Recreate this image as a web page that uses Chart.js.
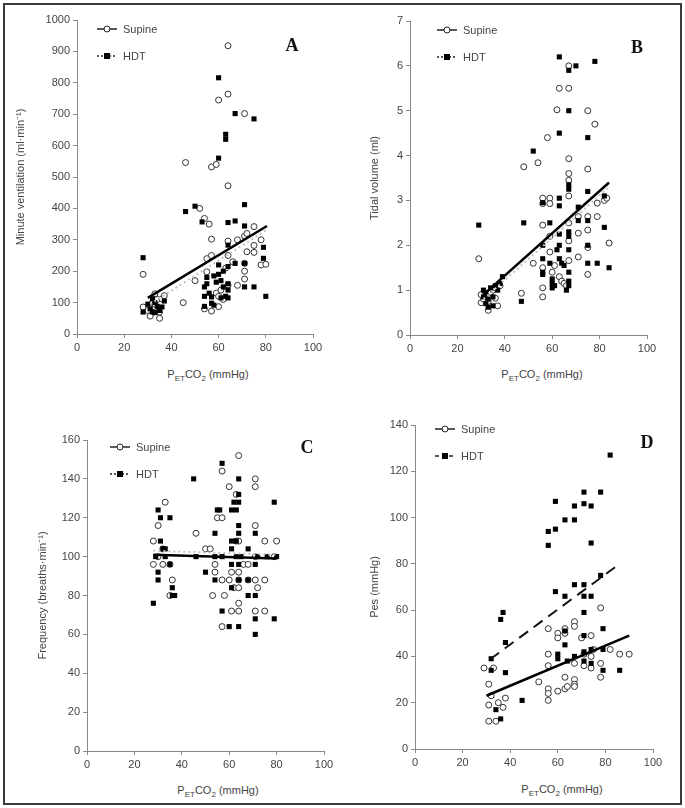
<!DOCTYPE html>
<html>
<head>
<meta charset="utf-8">
<script src="https://cdn.jsdelivr.net/npm/chart.js@4.4.1/dist/chart.umd.min.js"></script>
<style>
  body { margin: 0; background: #fff; }
  #fig { position: relative; width: 685px; height: 808px; font-family: Arial, "Liberation Sans", sans-serif; color: #444; }
  #moldura { position: absolute; left: 3px; top: 3px; width: 675px; height: 798px; border: 2px solid #3a3a3a; }
  canvas { position: absolute; }
  .xtit { position: absolute; font-size: 11px; transform: translate(-50%, -50%); white-space: nowrap; }
  .xtit sub { font-size: 8px; vertical-align: -3px; line-height: 0; }
  .leg { position: absolute; font-size: 11px; }
  .leg div { height: 12px; display: flex; align-items: center; margin-bottom: 15px; }
  .leg svg { margin-right: 6px; }
  .letra { position: absolute; font: bold 18px "Liberation Serif", "Times New Roman", serif; color: #111; transform: translate(-50%, -50%); }
</style>
</head>
<body>
<div id="fig">
  <div id="moldura"></div>
</div>
<script>
/* ===== dados: [PETCO2, valor] ===== */
const xTicks = [0, 20, 40, 60, 80, 100];

// A - ventilação minuto
const aSupine = [[28,190],[28,86],[30,75],[31,57],[32,100],[33,128],[33,85],[34,110],[35,50],[35,70],[36,112],[37,122],[33,95],
  [45,100],[46,546],[50,170],[52,400],[54,368],[54,80],[55,240],[55,198],[56,350],[57,302],[57,532],[59,540],[57,73],[57,250],
  [59,130],[60,745],[60,87],[60,120],[61,140],[62,110],[63,210],[64,918],[64,764],[64,472],[64,296],[64,250],[64,156],[66,230],
  [68,155],[71,702],[75,342],[71,312],[71,200],[71,175],[71,225],[75,282],[75,260],[78,300],[78,220],[80,222],[72,262],[68,300],[72,320]];
const aHDT = [[28,243],[28,70],[30,95],[31,80],[32,112],[32,70],[33,100],[34,88],[35,75],[36,86],[37,105],[33,68],
  [46,390],[50,407],[53,357],[54,88],[54,150],[54,120],[55,180],[55,160],[56,130],[57,118],[57,98],[58,185],[58,92],[59,165],
  [60,560],[60,816],[60,220],[60,190],[61,115],[61,170],[62,150],[62,200],[63,636],[63,620],[63,120],[64,355],[64,283],[64,215],
  [64,160],[64,140],[64,115],[67,360],[67,702],[67,225],[71,412],[71,344],[71,225],[71,150],[75,685],[75,150],[79,276],[79,241],[80,120]];
const aFit = [[30,115],[80.5,344]];
const aFitHDT = [[31,95],[80,330]];

// B - volume corrente
const bSupine = [[29,1.7],[30,0.9],[30,0.72],[31,0.8],[32,0.92],[33,0.55],[33,0.75],[34,0.95],[35,1.0],[36,0.82],[37,0.65],[36,1.05],[38,1.1],
  [47,0.93],[48,3.75],[52,1.6],[54,3.84],[56,3.05],[56,2.93],[56,2.45],[56,1.5],[56,1.05],[56,0.85],[58,4.4],[59,3.05],[59,2.93],
  [59,2.2],[59,1.85],[60,1.4],[61,1.55],[62,5.02],[63,5.5],[63,1.3],[64,1.2],[65,1.15],[66,1.1],[67,6.0],[67,5.5],[67,3.93],[67,3.6],
  [67,3.45],[67,3.1],[67,2.5],[67,2.1],[67,1.66],[71,2.64],[71,1.74],[71,2.27],[75,5.0],[75,3.7],[75,2.64],[75,2.34],[75,1.95],
  [75,1.35],[78,4.7],[79,2.94],[79,2.64],[82,3.0],[83,3.05],[84,2.05]];
const bHDT = [[29,2.45],[31,1.0],[31,0.85],[32,0.7],[32,0.92],[33,0.62],[33,0.8],[34,1.05],[35,0.85],[35,0.65],[36,1.1],[37,1.0],[38,1.15],[39,1.3],
  [47,0.75],[48,2.5],[52,4.1],[56,2.95],[56,2.0],[56,1.7],[56,1.4],[56,1.35],[59,2.5],[59,1.6],[60,1.25],[60,1.15],[60,1.05],[61,1.1],
  [62,1.9],[63,6.2],[63,4.5],[63,3.05],[63,2.88],[63,2.25],[63,2.0],[63,1.7],[64,1.6],[65,1.55],[66,1.0],[67,5.9],[67,5.0],[67,3.35],
  [67,3.25],[67,2.3],[67,2.2],[67,1.9],[67,1.4],[67,1.2],[67,1.1],[70,6.0],[71,2.85],[71,2.55],[75,4.4],[75,3.2],[75,2.55],[75,2.0],
  [75,1.6],[78,6.1],[79,1.6],[82,3.1],[82,2.4],[84,1.5]];
const bFit = [[31,0.9],[84,3.4]];
const bFitHDT = [[31,0.8],[84,3.3]];

// C - frequência
const cSupine = [[28,108],[28,96],[30,116],[32,104],[32,96],[33,128],[35,96],[36,88],[35,80],[30,100],
  [46,112],[50,104],[52,104],[53,80],[54,96],[54,92],[55,120],[57,120],[57,144],[57,88],[57,64],[58,80],[60,136],[60,88],[61,92],
  [61,72],[62,84],[63,132],[63,108],[64,152],[64,108],[64,92],[64,88],[64,84],[64,76],[64,72],[66,96],[68,96],[68,88],[71,140],
  [71,136],[71,116],[71,100],[71,88],[71,72],[72,84],[75,108],[75,88],[75,72],[79,100],[80,108]];
const cHDT = [[28,76],[29,100],[30,124],[30,92],[30,88],[31,120],[31,108],[32,104],[33,100],[35,120],[35,96],[36,84],[36,80],[37,80],[33,104],
  [45,140],[46,100],[50,92],[54,100],[54,88],[54,112],[55,124],[56,124],[57,148],[57,72],[57,100],[60,64],[61,124],[61,108],[61,104],
  [61,96],[61,84],[62,128],[63,124],[63,108],[63,100],[64,64],[64,140],[64,132],[64,128],[64,116],[64,112],[64,96],[64,88],[65,100],
  [68,104],[68,88],[68,80],[71,112],[71,96],[71,80],[71,68],[71,60],[72,100],[76,100],[79,128],[79,68],[80,100]];
const cFit = [[28,101],[80,99]];
const cFitHDT = [[28,103],[80,101]];

// D - Pes
const dSupine = [[29,35],[31,28],[31,19],[31,12],[33,35],[34,12],[35,20],[37,18],[38,22],[32,23],
  [52,29],[56,52],[56,41],[56,36],[56,26],[56,24],[56,21],[60,50],[60,48],[60,25],[63,52],[63,50],[63,31],[63,26],[64,27],
  [67,55],[67,53],[67,37],[67,30],[67,28],[67,27],[70,48],[71,41],[74,49],[74,40],[74,35],[78,61],[78,37],[78,31],[82,43],
  [86,41],[90,41],[71,36],[75,43]];
const dHDT = [[32,39],[32,34],[36,56],[37,59],[38,46],[38,33],[34,17],[36,13],[45,21],
  [56,94],[56,88],[59,107],[59,95],[59,68],[60,41],[60,39],[63,99],[63,66],[63,51],[63,45],[64,38],[67,105],[67,99],[67,71],
  [67,40],[71,111],[71,106],[71,71],[71,66],[71,59],[71,49],[71,42],[71,38],[74,105],[74,89],[74,66],[74,43],[74,37],[78,111],
  [78,75],[79,52],[79,43],[79,34],[82,127],[86,34]];
const dFit = [[30,23],[90,49]];
const dFitHDT = [[31.6,38.8],[86,80]];

/* ===== layout de cada painel ===== */
const paineis = [
  { letra: 'A', left: 10, top: 8, w: 323, h: 351, yw: 67, yMax: 1000, yStep: 100, yTitulo: 'Minute ventilation (ml·min⁻¹)',
    sup: aSupine, hdt: aHDT, fit: aFit, fitHDT: aFitHDT, hdtDash: [2, 3], hdtCor: '#c4c4c4',
    leg: [97, 23], letraPos: [292, 45], xTit: [208, 374] },
  { letra: 'B', left: 364, top: 9, w: 303, h: 351, yw: 46, yMax: 7, yStep: 1, yTitulo: 'Tidal volume (ml)',
    sup: bSupine, hdt: bHDT, fit: bFit, fitHDT: bFitHDT, hdtDash: [2, 3], hdtCor: '#c4c4c4',
    leg: [437, 24], letraPos: [637, 47], xTit: [542, 374] },
  { letra: 'C', left: 32, top: 428, w: 312, h: 348, yw: 55, yMax: 160, yStep: 20, yTitulo: 'Frequency (breaths·min⁻¹)',
    sup: cSupine, hdt: cHDT, fit: cFit, fitHDT: cFitHDT, hdtDash: [2, 3], hdtCor: '#c4c4c4',
    leg: [110, 441], letraPos: [307, 447], xTit: [218, 790] },
  { letra: 'D', left: 364, top: 413, w: 309, h: 361, yw: 51, yMax: 140, yStep: 20, yTitulo: 'Pes (mmHg)',
    sup: dSupine, hdt: dHDT, fit: dFit, fitHDT: dFitHDT, hdtDash: [11, 7], hdtCor: '#111',
    leg: [435, 423], letraPos: [647, 442], xTit: [562, 789] }
];

const fonteTick = { family: 'Arial, "Liberation Sans", sans-serif', size: 11 };
const toXY = arr => arr.map(([x, y]) => ({ x, y }));
const fig = document.getElementById('fig');

function legendaHTML(p) {
  const dash = p.letra === 'D' ? '4,3' : '2,2';
  return `
    <div><svg width="20" height="10"><line x1="0" y1="5" x2="20" y2="5" stroke="#222" stroke-width="1.5"/>
      <circle cx="10" cy="5" r="3" fill="#fff" stroke="#222" stroke-width="1"/></svg>Supine</div>
    <div><svg width="20" height="10"><line x1="0" y1="5" x2="20" y2="5" stroke="#222" stroke-width="1.5" stroke-dasharray="${dash}"/>
      <rect x="7" y="2" width="6" height="6" fill="#000"/></svg>HDT</div>`;
}

function criarPainel(p) {
  const cv = document.createElement('canvas');
  cv.width = p.w; cv.height = p.h;
  cv.style.left = p.left + 'px'; cv.style.top = p.top + 'px';
  fig.appendChild(cv);

  new Chart(cv.getContext('2d'), {
    type: 'scatter',
    data: {
      datasets: [
        { label: 'fit', data: toXY(p.fit), showLine: true, borderColor: '#000', borderWidth: 2.5, pointRadius: 0, order: 0 },
        { label: 'fit HDT', data: toXY(p.fitHDT), showLine: true, borderColor: p.hdtCor, borderWidth: 2, borderDash: p.hdtDash, pointRadius: 0, order: 1 },
        { label: 'HDT', data: toXY(p.hdt), pointStyle: 'rect', pointRadius: 3.6, backgroundColor: '#000', borderColor: '#000', borderWidth: 0, order: 2 },
        { label: 'Supine', data: toXY(p.sup), pointStyle: 'circle', pointRadius: 3, backgroundColor: '#fff', borderColor: '#333', borderWidth: 1, order: 3 }
      ]
    },
    options: {
      responsive: false,
      animation: false,
      layout: { padding: { top: 12, right: 20, left: 0, bottom: 0 } },
      plugins: { legend: { display: false }, tooltip: { enabled: false } },
      scales: {
        x: {
          type: 'linear', min: 0, max: 100,
          ticks: { stepSize: 20, font: fonteTick, color: '#444', padding: 3 },
          grid: { drawOnChartArea: false, drawTicks: true, tickLength: 4, color: '#888' },
          border: { color: '#888' },
          afterFit: s => { s.height = 25; }
        },
        y: {
          min: 0, max: p.yMax,
          ticks: { stepSize: p.yStep, font: fonteTick, color: '#444', padding: 3, callback: v => String(v) },
          grid: { drawOnChartArea: false, drawTicks: true, tickLength: 4, color: '#888' },
          border: { color: '#888' },
          title: { display: true, text: p.yTitulo, font: fonteTick, color: '#444' },
          afterFit: s => { s.width = p.yw; }
        }
      }
    }
  });

  const xt = document.createElement('div');
  xt.className = 'xtit';
  xt.style.left = p.xTit[0] + 'px'; xt.style.top = p.xTit[1] + 'px';
  xt.innerHTML = 'P<sub>ET</sub>CO<sub>2</sub> (mmHg)';
  fig.appendChild(xt);

  const lg = document.createElement('div');
  lg.className = 'leg';
  lg.style.left = p.leg[0] + 'px'; lg.style.top = p.leg[1] + 'px';
  lg.innerHTML = legendaHTML(p);
  fig.appendChild(lg);

  const lt = document.createElement('div');
  lt.className = 'letra';
  lt.style.left = p.letraPos[0] + 'px'; lt.style.top = p.letraPos[1] + 'px';
  lt.textContent = p.letra;
  fig.appendChild(lt);
}

paineis.forEach(criarPainel);
</script>
</body>
</html>
